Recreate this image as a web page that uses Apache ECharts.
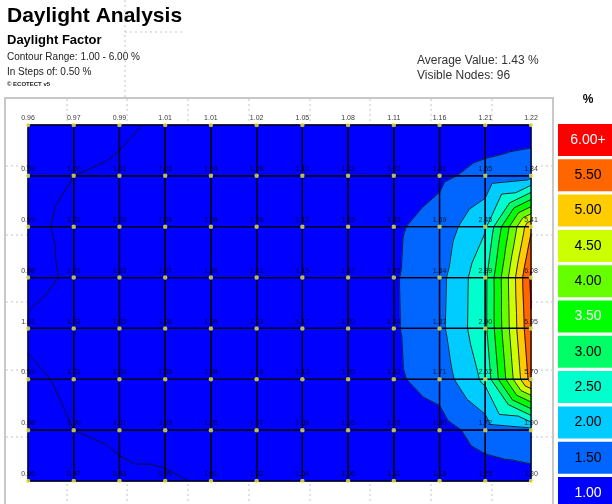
<!DOCTYPE html>
<html>
<head>
<meta charset="utf-8">
<script src="https://cdn.jsdelivr.net/npm/echarts@6/dist/echarts.min.js"></script>
<style>
  html, body { margin: 0; padding: 0; background: #fff; }
  #chart { width: 612px; height: 504px; }
</style>
</head>
<body>
<div id="chart"></div>
<script>
// Daylight factor (%) at each analysis node, one array per grid row, top row first
const row1 = [0.96, 0.97, 0.99, 1.01, 1.01, 1.02, 1.05, 1.08, 1.11, 1.16, 1.21, 1.22];
const row2 = [0.99, 1.00, 1.01, 1.03, 1.04, 1.06, 1.10, 1.13, 1.22, 1.41, 1.65, 1.84];
const row3 = [0.99, 1.01, 1.03, 1.04, 1.06, 1.09, 1.12, 1.15, 1.43, 1.69, 2.45, 5.41];
const row4 = [0.98, 1.01, 1.03, 1.07, 1.09, 1.12, 1.15, 1.17, 1.45, 1.84, 2.89, 6.08];
const row5 = [1.01, 1.03, 1.05, 1.06, 1.09, 1.13, 1.17, 1.20, 1.44, 1.87, 2.90, 5.95];
const row6 = [0.99, 1.01, 1.03, 1.05, 1.08, 1.10, 1.13, 1.20, 1.42, 1.71, 2.62, 5.70];
const row7 = [0.98, 1.00, 1.01, 1.03, 1.05, 1.07, 1.08, 1.16, 1.22, 1.30, 1.72, 1.90];
const row8 = [0.96, 0.97, 0.99, 0.99, 1.01, 1.02, 1.04, 1.06, 1.11, 1.18, 1.25, 1.30];
const nodeRows = [row1, row2, row3, row4, row5, row6, row7, row8];

// Contour lines are drawn at these values
const contourLevels = [1.0, 1.5, 2.0, 2.5, 3.0, 3.5, 4.0, 4.5, 5.0, 5.5, 6.0];
// Filled bands: band i starts at bandStarts[i] and runs up to the next start
const bandStarts = [-Infinity, 1.5, 2.0, 2.5, 3.0, 3.5, 4.0, 4.5, 5.0, 5.5, 6.0];
const bandColors = ['#0000ff', '#0066ff', '#00ccff', '#00ffcc', '#00ff66', '#00ff00',
                    '#66ff00', '#ccff00', '#ffcc00', '#ff6600', '#ff0000'];

// Colour key, top to bottom
const legendLabels = ['6.00+', '5.50', '5.00', '4.50', '4.00', '3.50', '3.00', '2.50', '2.00', '1.50', '1.00'];
const legendColors = ['#ff0000', '#ff6600', '#ffcc00', '#ccff00', '#66ff00', '#00ff00',
                      '#00ff66', '#00ffcc', '#00ccff', '#0066ff', '#0000ff'];
const legendTextColors = ['#ffffff', '#000000', '#000000', '#000000', '#000000', '#ffffff',
                          '#000000', '#000000', '#000000', '#000000', '#ffffff'];

const nCols = row1.length;
const nRows = nodeRows.length;

// one item per grid cell: [col, row, top-left, top-right, bottom-right, bottom-left]
const cells = [];
for (let r = 0; r < nRows - 1; r++) {
  for (let c = 0; c < nCols - 1; c++) {
    cells.push([c, r, nodeRows[r][c], nodeRows[r][c + 1], nodeRows[r + 1][c + 1], nodeRows[r + 1][c]]);
  }
}
// one item per node: [col, row, value]
const nodes = [];
nodeRows.forEach((row, r) => row.forEach((v, c) => nodes.push([c, r, v])));

// Keep the part of a polygon (with linearly varying value) at or above a level
function clipAbove(poly, level) {
  const out = [];
  for (let i = 0; i < poly.length; i++) {
    const a = poly[i], b = poly[(i + 1) % poly.length];
    const inA = a[2] >= level, inB = b[2] >= level;
    if (inA) out.push(a);
    if (inA !== inB) {
      const t = (level - a[2]) / (b[2] - a[2]);
      out.push([a[0] + t * (b[0] - a[0]), a[1] + t * (b[1] - a[1]), level]);
    }
  }
  return out;
}

// Split a cell into four triangles around its centre
function cellTriangles(api) {
  const c = api.value(0), r = api.value(1);
  const vals = [api.value(2), api.value(3), api.value(4), api.value(5)];
  const pix = [[c, r], [c + 1, r], [c + 1, r + 1], [c, r + 1]].map(p => api.coord(p));
  const corners = pix.map((p, i) => [p[0], p[1], vals[i]]);
  const centre = [
    (pix[0][0] + pix[1][0] + pix[2][0] + pix[3][0]) / 4,
    (pix[0][1] + pix[1][1] + pix[2][1] + pix[3][1]) / 4,
    (vals[0] + vals[1] + vals[2] + vals[3]) / 4
  ];
  return {
    pix,
    tris: [0, 1, 2, 3].map(i => [corners[i], corners[(i + 1) % 4], centre])
  };
}

// Filled contour bands, painted lowest first; each band covers everything above its start
function renderBands(params, api) {
  const { pix, tris } = cellTriangles(api);
  const children = [{
    type: 'polygon',
    shape: { points: pix },
    style: { fill: bandColors[0], stroke: bandColors[0], lineWidth: 1 }
  }];
  for (let b = 1; b < bandColors.length; b++) {
    tris.forEach(tri => {
      const poly = clipAbove(tri, bandStarts[b]);
      if (poly.length >= 3) {
        children.push({
          type: 'polygon',
          shape: { points: poly.map(p => [p[0], p[1]]) },
          style: { fill: bandColors[b], stroke: bandColors[b], lineWidth: 1 }
        });
      }
    });
  }
  return { type: 'group', children };
}

function renderLines(params, api) {
  const { pix, tris } = cellTriangles(api);
  const children = [];
  // contour lines
  tris.forEach(tri => {
    contourLevels.forEach(L => {
      const pts = [];
      for (let i = 0; i < 3; i++) {
        const a = tri[i], b = tri[(i + 1) % 3];
        if ((a[2] >= L) !== (b[2] >= L)) {
          const t = (L - a[2]) / (b[2] - a[2]);
          pts.push([a[0] + t * (b[0] - a[0]), a[1] + t * (b[1] - a[1])]);
        }
      }
      if (pts.length === 2) {
        children.push({
          type: 'line',
          shape: { x1: pts[0][0], y1: pts[0][1], x2: pts[1][0], y2: pts[1][1] },
          style: { stroke: '#101020', lineWidth: 0.9 }
        });
      }
    });
  });
  // analysis grid lines through the nodes
  children.push({
    type: 'polygon',
    shape: { points: pix },
    style: { fill: null, stroke: '#000010', lineWidth: 1.3 }
  });
  return { type: 'group', children };
}

// faint background grid lines of the model view
const bgLines = [];
[67, 127, 188, 249, 310, 370, 431, 492].forEach(x => bgLines.push({
  type: 'line', z: 0, silent: true,
  shape: { x1: x, y1: 99, x2: x, y2: 504 },
  style: { stroke: '#c4c4c4', lineWidth: 1, lineDash: [2, 3] }
}));
[166, 235, 302, 370, 437].forEach(y => bgLines.push({
  type: 'line', z: 0, silent: true,
  shape: { x1: 6, y1: y, x2: 553, y2: y },
  style: { stroke: '#c4c4c4', lineWidth: 1, lineDash: [2, 3] }
}));
bgLines.push({
  type: 'line', z: 0, silent: true,
  shape: { x1: 125, y1: 0, x2: 125, y2: 97 },
  style: { stroke: '#c4c4c4', lineWidth: 1, lineDash: [2, 3] }
});
bgLines.push({
  type: 'line', z: 0, silent: true,
  shape: { x1: 125, y1: 32, x2: 182, y2: 32 },
  style: { stroke: '#c4c4c4', lineWidth: 1, lineDash: [2, 3] }
});

function txt(text, x, y, font, fill, align) {
  return {
    type: 'text', z: 20, silent: true,
    style: {
      text, x, y, font, fill: fill || '#000',
      textAlign: align || 'left', align: align || 'left',
      textVerticalAlign: 'top', verticalAlign: 'top'
    }
  };
}

const legendItems = [];
const keyTop = 124, keyPitch = 35.3, keyH = 32;
legendLabels.forEach((lab, i) => {
  const y = keyTop + i * keyPitch;
  legendItems.push({
    type: 'rect', z: 10, silent: true,
    shape: { x: 558, y, width: 54, height: keyH },
    style: { fill: legendColors[i] }
  });
  legendItems.push({
    type: 'text', z: 11, silent: true,
    style: {
      text: lab, x: 588, y: y + keyH / 2,
      font: '14px "Liberation Sans", Arial, sans-serif',
      fill: legendTextColors[i],
      textAlign: 'center', align: 'center',
      textVerticalAlign: 'middle', verticalAlign: 'middle'
    }
  });
});

const chart = echarts.init(document.getElementById('chart'), null, { renderer: 'canvas' });
chart.setOption({
  animation: false,
  backgroundColor: '#ffffff',
  grid: { left: 28, right: 81, top: 125, bottom: 23 },
  xAxis: { type: 'value', min: 0, max: nCols - 1, show: false },
  yAxis: { type: 'value', min: 0, max: nRows - 1, inverse: true, show: false },
  graphic: [
    ...bgLines,
    {
      type: 'polyline', z: 1, silent: true,
      shape: { points: [[5, 504], [5, 98], [553, 98], [553, 504]] },
      style: { stroke: '#c8c8c8', lineWidth: 2, fill: null }
    },
    txt('Daylight Analysis', 7, 6, 'bold 21px "Liberation Sans", Arial, sans-serif'),
    txt('Daylight Factor', 7, 34, 'bold 13px "Liberation Sans", Arial, sans-serif'),
    txt('Contour Range: 1.00 - 6.00 %', 7, 52, '10px "Liberation Sans", Arial, sans-serif', '#222'),
    txt('In Steps of: 0.50 %', 7, 67, '10px "Liberation Sans", Arial, sans-serif', '#222'),
    txt('\u00a9 ECOTECT v5', 7, 81, 'bold 6px "Liberation Sans", Arial, sans-serif', '#222'),
    txt('Average Value: 1.43 %', 417, 55, '12px "Liberation Sans", Arial, sans-serif', '#333'),
    txt('Visible Nodes: 96', 417, 70, '12px "Liberation Sans", Arial, sans-serif', '#333'),
    txt('%', 588, 94, 'bold 12px "Liberation Sans", Arial, sans-serif', '#000', 'center'),
    ...legendItems
  ],
  series: [
    {
      type: 'custom', name: 'bands', z: 2, silent: true,
      renderItem: renderBands, data: cells, clip: false
    },
    {
      type: 'custom', name: 'contours', z: 3, silent: true,
      renderItem: renderLines, data: cells, clip: false
    },
    {
      type: 'scatter', name: 'nodes', z: 4, silent: true,
      data: nodes,
      symbol: 'circle', symbolSize: 4.5,
      itemStyle: { color: '#eeee55' },
      label: {
        show: true, position: 'top', distance: 1,
        formatter: p => p.value[2].toFixed(2),
        fontSize: 7, color: '#000',
        fontFamily: '"Liberation Sans", Arial, sans-serif'
      }
    }
  ]
});
</script>
</body>
</html>
